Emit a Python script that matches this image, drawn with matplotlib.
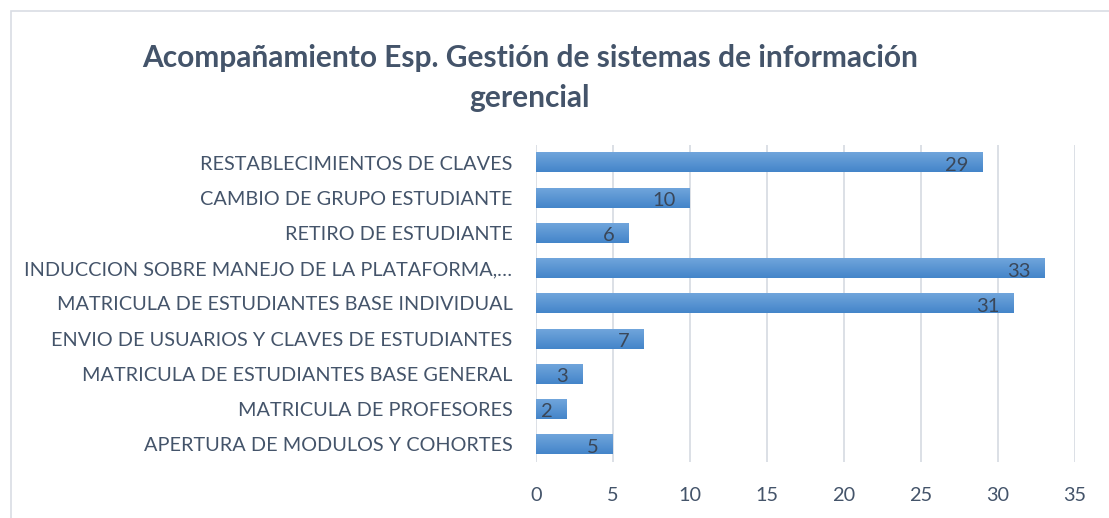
import numpy as np
import matplotlib.pyplot as plt
from matplotlib.patches import Rectangle

# categories from top to bottom as shown
categorias = [
    "RESTABLECIMIENTOS DE CLAVES",
    "CAMBIO DE GRUPO ESTUDIANTE",
    "RETIRO DE ESTUDIANTE",
    "INDUCCION SOBRE MANEJO DE LA PLATAFORMA,\u2026",
    "MATRICULA DE ESTUDIANTES BASE INDIVIDUAL",
    "ENVIO DE USUARIOS Y CLAVES DE ESTUDIANTES",
    "MATRICULA DE ESTUDIANTES BASE GENERAL",
    "MATRICULA DE PROFESORES",
    "APERTURA DE MODULOS Y COHORTES",
]
valores = [29, 10, 6, 33, 31, 7, 3, 2, 5]
ticks_x = [0, 5, 10, 15, 20, 25, 30, 35]

plt.rcParams['font.family'] = ['Lato', 'DejaVu Sans']
texto = '#44546a'

fig = plt.figure(figsize=(11.09, 5.18), dpi=100)
fig.patches.append(Rectangle((11 / 1109, -0.1), 1.2, 1.1 - 11 / 518,
                             transform=fig.transFigure, fill=False,
                             edgecolor='#d9dde4', linewidth=1.2))

ax = fig.add_axes([536 / 1109, 1 - 462 / 518, (1075 - 536) / 1109, (462 - 145) / 518])

y = np.arange(len(categorias))[::-1]
alto = 0.56
grad = np.linspace(0, 1, 50).reshape(-1, 1)
cmap = plt.matplotlib.colors.LinearSegmentedColormap.from_list('b', ['#70a5dc', '#4485c9'])
for yi, v in zip(y, valores):
    ax.imshow(grad, cmap=cmap, aspect='auto', origin='upper',
              extent=[0, v, yi - alto / 2, yi + alto / 2], zorder=2)
    ax.text(v - 0.9, yi - 0.08, str(v), ha='right', va='center', fontsize=14.5,
            color='#3a4759', zorder=3)

ax.set_xlim(0, 35)
ax.set_ylim(-0.5, len(categorias) - 0.5)
ax.set_xticks(ticks_x)
ax.set_yticks(y)
ax.set_yticklabels(categorias)
ax.grid(axis='x', color='#d9dde4', linewidth=1.3, zorder=0)
ax.set_axisbelow(True)
for s in ax.spines.values():
    s.set_visible(False)
ax.tick_params(axis='both', length=0, labelsize=14.3, labelcolor=texto)
ax.tick_params(axis='y', pad=17)
ax.tick_params(axis='x', pad=18)

fig.text(530 / 1109, 1 - 58 / 518, "Acompañamiento Esp. Gestión de sistemas de información",
         ha='center', va='center', fontsize=21.5, fontweight='bold', color=texto)
fig.text(530 / 1109, 1 - 98 / 518, "gerencial",
         ha='center', va='center', fontsize=21.5, fontweight='bold', color=texto)

fig.savefig('out.png', dpi=100)
